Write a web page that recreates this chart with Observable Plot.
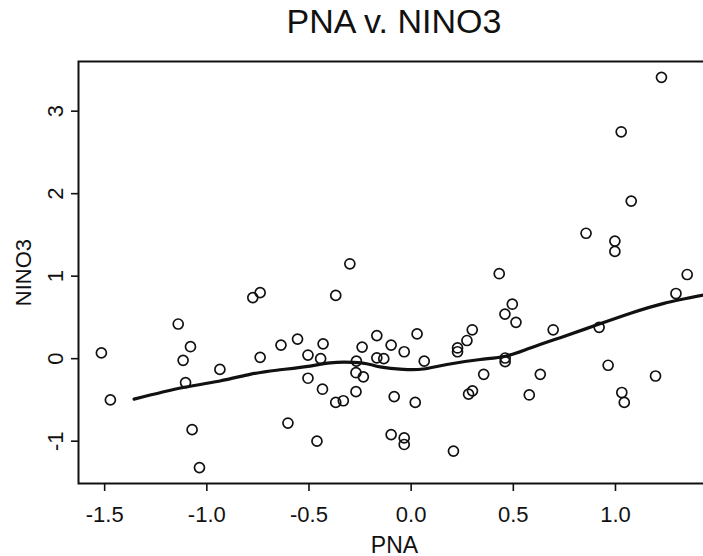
<!DOCTYPE html>
<html>
<head>
<meta charset="utf-8">
<script src="https://cdn.jsdelivr.net/npm/d3@7"></script>
<script src="https://cdn.jsdelivr.net/npm/@observablehq/plot@0.6"></script>
<style>
  html, body { margin: 0; padding: 0; background: #fff; overflow: hidden; width: 703px; height: 556px; }
  #wrap { position: relative; width: 703px; height: 556px; overflow: hidden; }
  #title { position: absolute; left: 78px; top: 4px; width: 632px; text-align: center;
           font-family: "Liberation Sans", Arial, sans-serif; font-size: 34px; line-height: 34px; color: #111; }
  #chart { position: absolute; left: 0; top: 0; width: 720px; }
  #chart svg { max-width: none !important; }
</style>
</head>
<body>
<div id="wrap">
  <div id="chart"></div>
  <div id="title">PNA v. NINO3</div>
</div>
<script>
const pna = [-1.516, -1.472, -1.14, -1.116, -1.08, -1.104, -1.072, -1.036, -0.936, -0.775,
  -0.739, -0.739, -0.637, -0.603, -0.556, -0.505, -0.505, -0.461, -0.443, -0.434,
  -0.431, -0.369, -0.369, -0.332, -0.268, -0.27, -0.234, -0.27, -0.24, -0.168,
  -0.168, -0.134, -0.098, -0.083, -0.098, -0.30, -0.034, 0.029, 0.064, 0.02,
  -0.034, -0.034, 0.207, 0.227, 0.227, 0.273, 0.299, 0.355, 0.281, 0.30,
  0.459, 0.495, 0.513, 0.46, 0.46, 0.578, 0.632, 0.695, 0.92, 0.964,
  1.031, 1.043, 1.196, 1.296, 1.225, 1.028, 1.077, 0.856, 0.997, 0.997,
  0.431, 1.351];
const nino3 = [0.07, -0.50, 0.42, -0.02, 0.145, -0.29, -0.86, -1.32, -0.13, 0.74,
  0.80, 0.016, 0.165, -0.78, 0.237, 0.044, -0.237, -1.0, 0.0, -0.37,
  0.18, 0.767, -0.53, -0.51, -0.03, -0.17, -0.22, -0.40, 0.14, 0.28,
  0.01, 0.0, 0.165, -0.46, -0.92, 1.15, 0.084, 0.30, -0.03, -0.53,
  -0.96, -1.04, -1.12, 0.13, 0.084, 0.22, 0.35, -0.19, -0.43, -0.39,
  0.54, 0.66, 0.44, 0.008, -0.036, -0.44, -0.19, 0.35, 0.38, -0.08,
  -0.41, -0.53, -0.21, 0.79, 3.41, 2.75, 1.91, 1.52, 1.425, 1.30,
  1.03, 1.02];
const smoothPna = [-1.356, -1.116, -0.936, -0.789, -0.658, -0.495, -0.397, -0.283, -0.201, -0.152,
  -0.038, 0.06, 0.175, 0.338, 0.461, 0.583, 0.747, 0.91, 1.074, 1.237, 1.43];
const smoothNino3 = [-0.49, -0.35, -0.27, -0.19, -0.14, -0.09, -0.05, -0.045, -0.07, -0.10,
  -0.13, -0.125, -0.07, -0.01, 0.03, 0.13, 0.27, 0.41, 0.55, 0.67, 0.77];
const xTicks = [-1.5, -1.0, -0.5, 0.0, 0.5, 1.0];
const yTicks = [-1, 0, 1, 2, 3];

const points = pna.map((x, i) => ({x, y: nino3[i]}));
const smooth = smoothPna.map((x, i) => ({x, y: smoothNino3[i]}));
const font = "'Liberation Sans', Arial, sans-serif";
const ink = "#111";

const chart = Plot.plot({
  width: 720,
  height: 556,
  marginLeft: 78,
  marginTop: 61,
  marginBottom: 73,
  marginRight: 10,
  style: {fontFamily: font, fontSize: "22px", color: ink, background: "transparent", maxWidth: "none"},
  x: {domain: [-1.628, 1.465], label: null},
  y: {domain: [-1.513, 3.602], label: null},
  marks: [
    Plot.frame({stroke: ink, strokeWidth: 2}),
    Plot.axisX({ticks: xTicks, tickSize: 8, tickPadding: 15, tickFormat: d => d.toFixed(1),
      fontSize: 22, stroke: ink, fill: ink, strokeWidth: 1.6, label: null}),
    Plot.axisY({ticks: yTicks, tickSize: 7, tickFormat: () => "", stroke: ink, strokeWidth: 1.6, label: null}),
    Plot.text(yTicks, {y: d => d, text: d => String(d), frameAnchor: "left", dx: -16, rotate: -90,
      lineAnchor: "bottom", textAnchor: "middle", fontSize: 22, fill: ink}),
    Plot.text(["PNA"], {text: d => d, frameAnchor: "bottom", dy: 69, lineAnchor: "bottom", fontSize: 23, fill: ink}),
    Plot.text(["NINO3"], {text: d => d, frameAnchor: "left", dx: -48, rotate: -90, lineAnchor: "bottom",
      textAnchor: "middle", fontSize: 22, fill: ink}),
    Plot.line(smooth, {x: "x", y: "y", stroke: ink, strokeWidth: 3.2, curve: "natural"}),
    Plot.dot(points, {x: "x", y: "y", r: 5, stroke: ink, strokeWidth: 1.7, fill: "none"})
  ]
});
chart.style.maxWidth = "none";
document.getElementById("chart").appendChild(chart);
</script>
</body>
</html>
